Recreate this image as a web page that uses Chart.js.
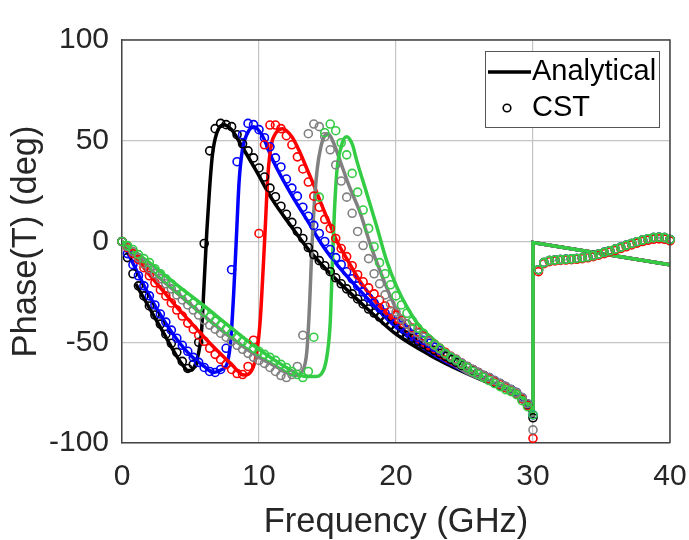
<!DOCTYPE html>
<html>
<head>
<meta charset="utf-8">
<title>Phase(T) vs Frequency</title>
<script src="https://cdn.jsdelivr.net/npm/chart.js@4.4.0/dist/chart.umd.min.js"></script>
<style>
  html, body { margin: 0; padding: 0; background: #ffffff; }
  #wrap { width: 689px; height: 540px; }
</style>
</head>
<body>
<div id="wrap"><canvas id="phaseChart" width="689" height="540"></canvas></div>
<script>
// CST sweep frequencies (GHz)
const cstFreq = [
  0, 0.4, 0.8, 1.2, 1.6, 2, 2.4, 2.8, 3.2, 3.6,
  4, 4.4, 4.8, 5.2, 5.6, 6, 6.4, 6.8, 7.2, 7.6,
  8, 8.4, 8.8, 9.2, 9.6, 10, 10.4, 10.8, 11.2, 11.6,
  12, 12.4, 12.8, 13.2, 13.6, 14, 14.4, 14.8, 15.2, 15.6,
  16, 16.4, 16.8, 17.2, 17.6, 18, 18.4, 18.8, 19.2, 19.6,
  20, 20.4, 20.8, 21.2, 21.6, 22, 22.4, 22.8, 23.2, 23.6,
  24, 24.4, 24.8, 25.2, 25.6, 26, 26.4, 26.8, 27.2, 27.6,
  28, 28.4, 28.8, 29.2, 29.6, 30, 30.4, 30.8, 31.2, 31.6,
  32, 32.4, 32.8, 33.2, 33.6, 34, 34.4, 34.8, 35.2, 35.6,
  36, 36.4, 36.8, 37.2, 37.6, 38, 38.4, 38.8, 39.2, 39.6,
  40
];

// CST phase (deg), 0 - 30 GHz
const cstBlack = [
  0, -8, -16, -22, -27, -32, -36.5, -41, -46, -50.5,
  -55, -59.5, -63, -61, -50, -1, 45, 56, 58.6, 58,
  57, 53, 48.5, 45, 41.5, 36.5, 32, 26.5, 22.2, 17.5,
  13.5, 9.5, 5, 1.5, -3, -6.5, -9.5, -12, -15, -18,
  -21, -23.5, -26, -28.5, -31, -33.5, -35.5, -37.5, -39.5, -41.5,
  -43.5, -45, -46.5, -48, -49.5, -51, -52.5, -54, -55.5, -57,
  -58.5, -60, -61.5, -62.5, -64, -65, -66.5, -68, -69.5, -70.5,
  -72, -73.5, -75, -78, -81, -87.5
];
const cstBlue = [
  0, -6, -11.5, -17, -22, -27, -31.5, -36, -40, -44,
  -48, -51.5, -54.5, -57.5, -60, -62.5, -64.5, -65, -63.5, -53,
  -14, 39.6, 53, 58.6, 58, 55.5, 51.5, 47, 41.5, 37,
  31, 26.5, 22.5, 17, 12.5, 8, 4, 0, -4, -8,
  -11.5, -15, -18.5, -22, -25, -28, -30.5, -33, -35.5, -38,
  -40, -42, -44, -46, -47.5, -49, -50.5, -52.5, -54, -55.5,
  -57.5, -59, -60.5, -62, -63.5, -65, -66.5, -67.5, -69, -70.5,
  -72, -73.5, -75, -77.5, -80.5, -86
];
const cstRed = [
  0, -3, -6, -9, -13, -17, -20.5, -24, -27, -30.5,
  -34, -37, -40.5, -43.5, -46.5, -49.5, -53, -56, -58.5, -61,
  -63.5, -65.5, -66, -62, -49, 4, 48, 57.8, 57.8, 56,
  52.5, 48, 42, 36, 29.5, 22.5, 17, 11, 6.5, 1.5,
  -3.5, -7.5, -12, -16.5, -20, -23, -26, -29, -32, -34.5,
  -36.5, -39, -41, -43, -45, -47, -49, -51, -53, -55,
  -57, -58.5, -60.5, -62, -63.5, -65, -66.5, -68, -69.5, -71,
  -72.5, -74, -75.5, -78, -81.5, -97.7
];
const cstGray = [
  0, -2.5, -5, -8, -11, -13.5, -16, -18.5, -21, -23.5,
  -26.5, -29, -31.5, -34, -36.5, -39, -41.5, -43.5, -45.5, -47.5,
  -49.5, -51.5, -53.5, -55.5, -57.5, -59, -60.5, -62.5, -64.5, -66.5,
  -67.5, -66, -62, -46.5, 53.5, 58.3, 57, 52, 45.5, 38,
  30, 22, 14, 5, -2, -8.5, -16, -21, -26.5, -31,
  -35, -38.5, -41, -43.5, -45.5, -47.5, -49.5, -51.5, -53.5, -55.5,
  -57, -58.5, -60.5, -62, -63.5, -65, -66.5, -67.5, -69, -70.5,
  -72, -73.5, -75, -77.5, -80.5, -93.5
];
const cstGreen = [
  0, -2, -4, -6.5, -8.5, -10.5, -13.5, -16, -18.5, -21,
  -23.5, -25.5, -28, -30.5, -33, -35, -37.5, -39.5, -41.5, -43.5,
  -45.5, -47.5, -49.5, -51, -53, -54.5, -56, -57.5, -59, -61,
  -62.5, -64.5, -66, -67.5, -64.5, -47.5, 22, 54, 58.3, 55,
  49, 43, 33.8, 24.5, 15.6, 6.5, -2.6, -10.5, -16, -21.5,
  -27, -31.5, -35.6, -39.5, -43, -45.6, -48.5, -51, -53, -55.5,
  -57.5, -59, -61, -62.5, -64.5, -66, -67.5, -69, -70.5, -72,
  -73.5, -74.5, -76, -79, -82, -86
];
// CST phase (deg), 30.4 - 40 GHz
const cstTail = [
  -14, -10.5, -9.5, -9.2, -9, -8.8, -8.6, -8.4, -8.1, -7.6,
  -7, -6.2, -5.4, -4.6, -3.8, -2.9, -1.9, -1, -0.1, 0.7,
  1.4, 1.9, 2.1, 1.9, 1
];
const cstTailRed = [
  -15, -11, -10, -9.6, -9.4, -9.2, -9, -8.8, -8.5, -8.1,
  -7.5, -6.8, -6, -5.2, -4.4, -3.5, -2.6, -1.7, -0.8, 0,
  0.6, 1.1, 1.3, 1.1, 0.3
];

// Analytical curves, 0 - 30 GHz
const blackF = [1, 2, 3, 4, 4.45, 4.8, 5.1, 5.35, 5.6, 5.8, 6, 6.2, 6.4, 6.6, 6.9, 7.4, 8, 8.6, 9.8, 11, 12.3, 13.5, 15, 16.5, 18, 20, 22.5, 25, 27.5, 29.5, 30];
const blackV = [-21, -33, -45, -57, -61.5, -64, -63.8, -61, -55, -45, -20, 6, 27, 43, 53.5, 58, 55.5, 49, 35, 20.5, 8, -3, -14.5, -24.5, -34, -46, -56.5, -65, -72.5, -80.5, -87.5];
const blueF = [0, 1, 2, 3, 4, 5, 6, 6.7, 7.3, 7.7, 7.95, 8.15, 8.35, 8.55, 8.8, 9.1, 9.6, 10.2, 11, 12.3, 13.5, 14.7, 16, 17.6, 20, 22.5, 25, 27.5, 29.5, 30];
const blueV = [0, -13.5, -27, -38.5, -48.5, -56.5, -62, -65, -63.5, -60, -48, -26, 2, 30, 46, 53, 57, 53, 40.5, 24, 10.7, -2.6, -14, -26, -42.5, -55, -64.5, -72, -80, -86];
const redF = [0, 1, 2, 3, 4, 5, 6, 7, 8, 8.9, 9.6, 9.9, 10.1, 10.3, 10.45, 10.65, 10.9, 11.2, 11.7, 12.4, 13, 13.5, 14, 14.7, 15.2, 15.7, 16.4, 17.6, 20, 22.5, 25, 27.5, 29.5, 30];
const redV = [0, -8, -16.5, -24.5, -32.5, -40, -47.5, -54.5, -61, -66.3, -62, -52, -38, -14, 6, 33, 48, 53.5, 56, 52, 44, 36, 28, 16, 8, 0, -8.5, -22, -40.6, -54, -64, -71.5, -79.5, -86];
const grayF = [0, 1, 2, 4, 6, 8, 10, 11.5, 12.6, 13.2, 13.5, 13.7, 13.85, 14.05, 14.25, 14.5, 14.8, 15.05, 15.5, 15.9, 16.6, 17.4, 18.1, 18.8, 19.6, 20.3, 21.3, 22.2, 23.5, 25, 27.5, 29.5, 30];
const grayV = [0, -6.5, -13.5, -25.5, -37, -48, -57.5, -63, -66.5, -64, -54, -30, -5, 20, 36, 46.5, 52.5, 53.5, 48, 40.4, 27.2, 14, -0.9, -14, -27.4, -37.3, -45.6, -50.5, -57, -64.5, -72, -80, -87];
const greenF = [0, 1, 2, 4, 6, 8, 10, 12, 13.4, 14.1, 14.7, 15, 15.2, 15.35, 15.5, 15.7, 16, 16.2, 16.4, 16.6, 16.85, 17.1, 17.86, 18.6, 19.3, 20.05, 20.8, 21.75, 22.5, 23.7, 25, 26, 27.5, 29.5, 30];
const greenV = [0, -5.3, -10.5, -21.5, -32, -43, -53.5, -62.5, -67, -67, -64, -55, -40, -12, 14, 36, 47, 51, 52, 51, 47.5, 41, 24, 7.3, -9.2, -22.4, -32.4, -42.3, -47.2, -54.5, -62, -66, -71.5, -79.5, -86];
// Analytical after the jump at 30 GHz
const lineTailF = [30, 40];
const lineTailV = [-0.5, -11.5];

const xTicks = [0, 10, 20, 30, 40];
const yTicks = [-100, -50, 0, 50, 100];

const colors = {
  black: '#000000',
  blue: '#0000ff',
  red: '#ff0000',
  gray: '#808080',
  green: '#33cc44'
};
const textColor = '#262626';
const axisColor = '#444444';
const gridColor = '#c4c4c4';
const fontFamily = '"Liberation Sans", Arial, Helvetica, sans-serif';

function toPoints(xs, ys) {
  return xs.map((x, i) => ({ x: x, y: ys[i] }));
}

const curves = [
  { name: 'black', f: blackF, v: blackV, cst: cstBlack.concat(cstTail) },
  { name: 'blue', f: blueF, v: blueV, cst: cstBlue.concat(cstTail) },
  { name: 'red', f: redF, v: redV, cst: cstRed.concat(cstTailRed) },
  { name: 'gray', f: grayF, v: grayV, cst: cstGray.concat(cstTail) },
  { name: 'green', f: greenF, v: greenV, cst: cstGreen.concat(cstTail) }
];

const datasets = [];
curves.forEach((c, k) => {
  const col = colors[c.name];
  // lower order is drawn on top: green was plotted last, so it sits on top
  datasets.push({
    label: 'Analytical ' + c.name,
    data: toPoints(c.f, c.v),
    showLine: true,
    borderColor: col,
    borderWidth: 3.5,
    pointRadius: 0,
    cubicInterpolationMode: 'monotone',
    order: 20 - k
  });
  const tail = [{ x: 30, y: c.v[c.v.length - 1] }].concat(toPoints(lineTailF, lineTailV));
  datasets.push({
    label: 'Analytical tail ' + c.name,
    data: tail,
    showLine: true,
    borderColor: col,
    borderWidth: 3.5,
    pointRadius: 0,
    tension: 0,
    order: 20 - k
  });
  datasets.push({
    label: 'CST ' + c.name,
    data: toPoints(cstFreq, c.cst),
    showLine: false,
    pointStyle: 'circle',
    pointRadius: 4,
    pointBorderWidth: 1.6,
    pointBorderColor: col,
    pointBackgroundColor: 'rgba(0,0,0,0)',
    clip: 6,
    order: 10 - k
  });
});

const framePlugin = {
  id: 'frame',
  afterDatasetsDraw(chart) {
    const { ctx, chartArea: a } = chart;
    ctx.save();
    ctx.strokeStyle = axisColor;
    ctx.lineWidth = 1.5;
    ctx.beginPath();
    ctx.moveTo(a.left, a.top);
    ctx.lineTo(a.right, a.top);
    ctx.lineTo(a.right, a.bottom);
    ctx.stroke();
    ctx.restore();
  }
};

const legendPlugin = {
  id: 'boxLegend',
  afterDraw(chart) {
    const { ctx, chartArea: a } = chart;
    const x0 = a.right - 185;
    const y0 = a.top + 11;
    const w = 174, h = 76;
    ctx.save();
    ctx.fillStyle = '#ffffff';
    ctx.fillRect(x0, y0, w, h);
    ctx.strokeStyle = '#555555';
    ctx.lineWidth = 1;
    ctx.strokeRect(x0 + 0.5, y0 + 0.5, w, h);

    const row1 = y0 + 21, row2 = y0 + 57;
    ctx.strokeStyle = '#000000';
    ctx.lineWidth = 3.5;
    ctx.beginPath();
    ctx.moveTo(x0 + 3, row1);
    ctx.lineTo(x0 + 46, row1);
    ctx.stroke();

    ctx.lineWidth = 1.6;
    ctx.beginPath();
    ctx.arc(x0 + 22, row2, 3.8, 0, Math.PI * 2);
    ctx.stroke();

    ctx.fillStyle = '#000000';
    ctx.font = '29px ' + fontFamily;
    ctx.textBaseline = 'middle';
    ctx.textAlign = 'left';
    ctx.fillText('Analytical', x0 + 47, row1);
    ctx.fillText('CST', x0 + 47, row2);
    ctx.restore();
  }
};

new Chart(document.getElementById('phaseChart'), {
  type: 'scatter',
  data: { datasets: datasets },
  options: {
    responsive: false,
    animation: false,
    events: [],
    layout: { padding: { left: 0, top: 40, right: 19, bottom: 0 } },
    plugins: {
      legend: { display: false },
      tooltip: { enabled: false }
    },
    scales: {
      x: {
        type: 'linear',
        min: 0,
        max: 40,
        afterBuildTicks(scale) { scale.ticks = xTicks.map(v => ({ value: v })); },
        afterFit(scale) {
          scale.height = 97;
          scale.paddingLeft = 0;
          scale.paddingRight = 0;
        },
        ticks: { color: textColor, padding: 16, font: { family: fontFamily, size: 30 } },
        grid: { color: gridColor, lineWidth: 1.2, drawTicks: false },
        border: { display: true, color: axisColor, width: 1.5 },
        title: {
          display: true,
          text: 'Frequency (GHz)',
          color: textColor,
          font: { family: fontFamily, size: 34.5 },
          padding: { top: 0, bottom: -3 }
        }
      },
      y: {
        type: 'linear',
        min: -100,
        max: 100,
        afterBuildTicks(scale) { scale.ticks = yTicks.map(v => ({ value: v })); },
        afterFit(scale) {
          scale.width = 122;
          scale.paddingTop = 0;
          scale.paddingBottom = 0;
        },
        ticks: { color: textColor, padding: 13, font: { family: fontFamily, size: 30 } },
        grid: { color: gridColor, lineWidth: 1.2, drawTicks: false },
        border: { display: true, color: axisColor, width: 1.5 },
        title: {
          display: true,
          text: 'Phase(T) (deg)',
          color: textColor,
          font: { family: fontFamily, size: 34.5 },
          padding: { top: 6, bottom: 0 }
        }
      }
    }
  },
  plugins: [framePlugin, legendPlugin]
});
</script>
</body>
</html>
